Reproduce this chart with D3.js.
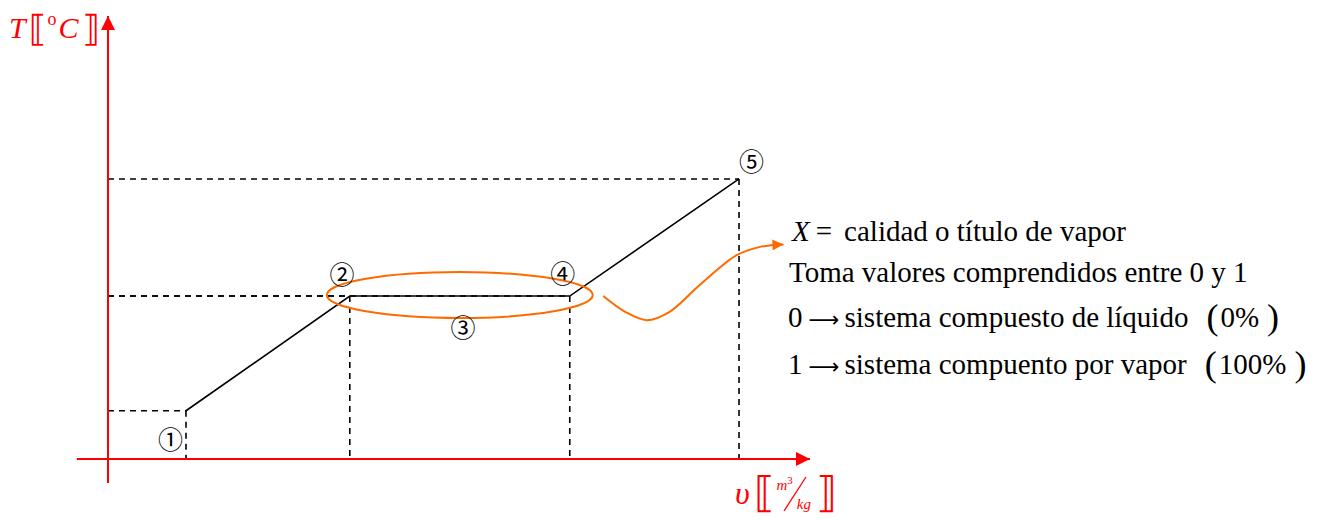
<!DOCTYPE html>
<html lang="es">
<head>
    <meta charset="UTF-8">
    <title>Diagrama T-v</title>
    <script src="https://cdn.jsdelivr.net/npm/d3@7"></script>
    <style>
        body { margin: 0; background: #fff; }
        text { font-family: "Liberation Serif", "Times New Roman", serif; }
    </style>
</head>
<body>
<script>
    // estados del proceso (volumen especifico, temperatura) en unidades arbitrarias
    const vol = [1.0, 3.1, 5.92, 8.09];
    const temp = [0.98, 3.31, 3.31, 5.69];
    const etiquetas = [
        {txt: "①", v: 0.8, t: 0.43},
        {txt: "②", v: 3.0, t: 3.78},
        {txt: "③", v: 4.55, t: 2.71},
        {txt: "④", v: 5.83, t: 3.8},
        {txt: "⑤", v: 8.25, t: 6.07}
    ];
    // flecha que sale de la elipse hacia el texto
    const curvaV = [6.35, 6.63, 6.91, 7.2, 7.59, 8.06, 8.36, 8.66];
    const curvaT = [3.31, 2.99, 2.82, 2.99, 3.54, 4.14, 4.31, 4.36];
    const notas = [
        "calidad o título de vapor",
        "Toma valores comprendidos entre 0 y 1",
        "sistema compuesto de líquido",
        "sistema compuento por vapor"
    ];

    const W = 1331, H = 519;
    const svg = d3.select("body").append("svg").attr("width", W).attr("height", H);

    const x = d3.scaleLinear().domain([0, 9]).range([108, 810]);
    const y = d3.scaleLinear().domain([0, 9]).range([459, 16]);

    const defs = svg.append("defs");
    defs.append("marker").attr("id", "rojo")
        .attr("viewBox", "0 0 10 10").attr("refX", 10).attr("refY", 5)
        .attr("markerWidth", 15).attr("markerHeight", 14).attr("markerUnits", "userSpaceOnUse")
        .attr("orient", "auto")
        .append("path").attr("d", "M0,0L10,5L0,10Z").attr("fill", "#ff0000");
    defs.append("marker").attr("id", "naranja")
        .attr("viewBox", "0 0 10 10").attr("refX", 10).attr("refY", 5)
        .attr("markerWidth", 14).attr("markerHeight", 11).attr("markerUnits", "userSpaceOnUse")
        .attr("orient", "auto")
        .append("path").attr("d", "M0,0L10,5L0,10Z").attr("fill", "#ff6a00");

    // lineas punteadas de referencia
    const pts = vol.map((v, i) => [v, temp[i]]);
    const guia = svg.append("g").attr("stroke", "#000").attr("stroke-width", 1.6)
        .attr("stroke-dasharray", "6,5");
    pts.forEach(p => {
        guia.append("line").attr("x1", x(0)).attr("y1", y(p[1]))
            .attr("x2", x(p[0])).attr("y2", y(p[1]));
        guia.append("line").attr("x1", x(p[0])).attr("y1", y(p[1]))
            .attr("x2", x(p[0])).attr("y2", y(0));
    });

    // proceso
    const line = d3.line().x(d => x(d[0])).y(d => y(d[1]));
    svg.append("path").attr("d", line(pts)).attr("fill", "none")
        .attr("stroke", "#000").attr("stroke-width", 1.6);

    // ejes
    svg.append("line").attr("x1", x(-0.4)).attr("y1", y(0)).attr("x2", x(9)).attr("y2", y(0))
        .attr("stroke", "#ff0000").attr("stroke-width", 2).attr("marker-end", "url(#rojo)");
    svg.append("line").attr("x1", x(0)).attr("y1", y(-0.49)).attr("x2", x(0)).attr("y2", y(9))
        .attr("stroke", "#ff0000").attr("stroke-width", 2).attr("marker-end", "url(#rojo)");

    // elipse sobre el cambio de fase
    const cx = (x(vol[1]) + x(vol[2])) / 2;
    svg.append("ellipse").attr("cx", cx).attr("cy", y(temp[1]) - 1)
        .attr("rx", (x(vol[2]) - x(vol[1])) / 2 + 23).attr("ry", 23)
        .attr("fill", "none").attr("stroke", "#ff6a00").attr("stroke-width", 2);

    const curva = d3.line().x(d => x(d[0])).y(d => y(d[1])).curve(d3.curveCatmullRom);
    svg.append("path").attr("d", curva(curvaV.map((v, i) => [v, curvaT[i]])))
        .attr("fill", "none").attr("stroke", "#ff6a00").attr("stroke-width", 2)
        .attr("marker-end", "url(#naranja)");

    // numeros de estado
    svg.append("g").selectAll("text").data(etiquetas).join("text")
        .attr("x", d => x(d.v)).attr("y", d => y(d.t))
        .attr("text-anchor", "middle").attr("dominant-baseline", "central")
        .style("font-family", "'Noto Sans CJK JP', 'DejaVu Sans', sans-serif").style("font-size", "25px")
        .text(d => d.txt);

    // titulos de ejes
    const tT = svg.append("text").attr("x", 9).attr("y", 38).attr("fill", "#ff0000")
        .style("font-size", "30px");
    tT.append("tspan").style("font-style", "italic").text("T");
    tT.append("tspan").attr("dx", 3).attr("dy", 3).style("font-family", "'DejaVu Sans'").style("font-size", "36px").text("⟦");
    tT.append("tspan").attr("dx", 1).attr("dy", -16).style("font-size", "18px").text("o");
    tT.append("tspan").attr("dx", 2).attr("dy", 13).style("font-style", "italic").text("C");
    tT.append("tspan").attr("dx", 4).attr("dy", 3).style("font-family", "'DejaVu Sans'").style("font-size", "36px").text("⟧");

    const tv = svg.append("text").attr("x", 735).attr("y", 504).attr("fill", "#ff0000")
        .style("font-size", "32px");
    tv.append("tspan").style("font-style", "italic").text("υ");
    tv.append("tspan").attr("dx", 4).attr("dy", 3).style("font-family", "'DejaVu Sans'").style("font-size", "42px").text("⟦");
    tv.append("tspan").attr("dx", 2).attr("dy", -17).style("font-size", "15px").style("font-style", "italic").text("m");
    tv.append("tspan").attr("dy", -6).style("font-size", "11px").text("3");
    tv.append("tspan").attr("dx", 4).attr("dy", 25).style("font-size", "15px").style("font-style", "italic").text("kg");
    tv.append("tspan").attr("dx", 5).attr("dy", -2).style("font-family", "'DejaVu Sans'").style("font-size", "42px").text("⟧");
    svg.append("line").attr("x1", 784).attr("y1", 511).attr("x2", 806).attr("y2", 477)
        .attr("stroke", "#ff0000").attr("stroke-width", 1.3);

    // notas
    const fs = "29px";
    const n0 = svg.append("text").attr("x", 792).attr("y", 241).style("font-size", fs);
    n0.append("tspan").style("font-style", "italic").text("X");
    n0.append("tspan").attr("dx", 6).text("=");
    n0.append("tspan").attr("dx", 12).text(notas[0]);

    svg.append("text").attr("x", 789).attr("y", 282).style("font-size", fs).text(notas[1]);

    const flecha = t => t.style("font-family", "'DejaVu Sans'").style("font-size", "22px")
        .attr("textLength", 31).attr("lengthAdjust", "spacingAndGlyphs");
    [[notas[2], "0", "0%", 327], [notas[3], "1", "100%", 374]].forEach(([txt, num, pct, yy]) => {
        const n = svg.append("text").attr("x", 788).attr("y", yy).style("font-size", fs);
        n.append("tspan").text(num);
        n.append("tspan").attr("dx", 6).call(flecha).text("⟶");
        n.append("tspan").attr("dx", 5).text(txt);
        n.append("tspan").attr("dx", 18).style("font-size", "36px").attr("dy", 2).text("(");
        n.append("tspan").attr("dx", 2).attr("dy", -2).text(pct);
        n.append("tspan").attr("dx", 8).style("font-size", "36px").attr("dy", 2).text(")");
    });
</script>
</body>
</html>
